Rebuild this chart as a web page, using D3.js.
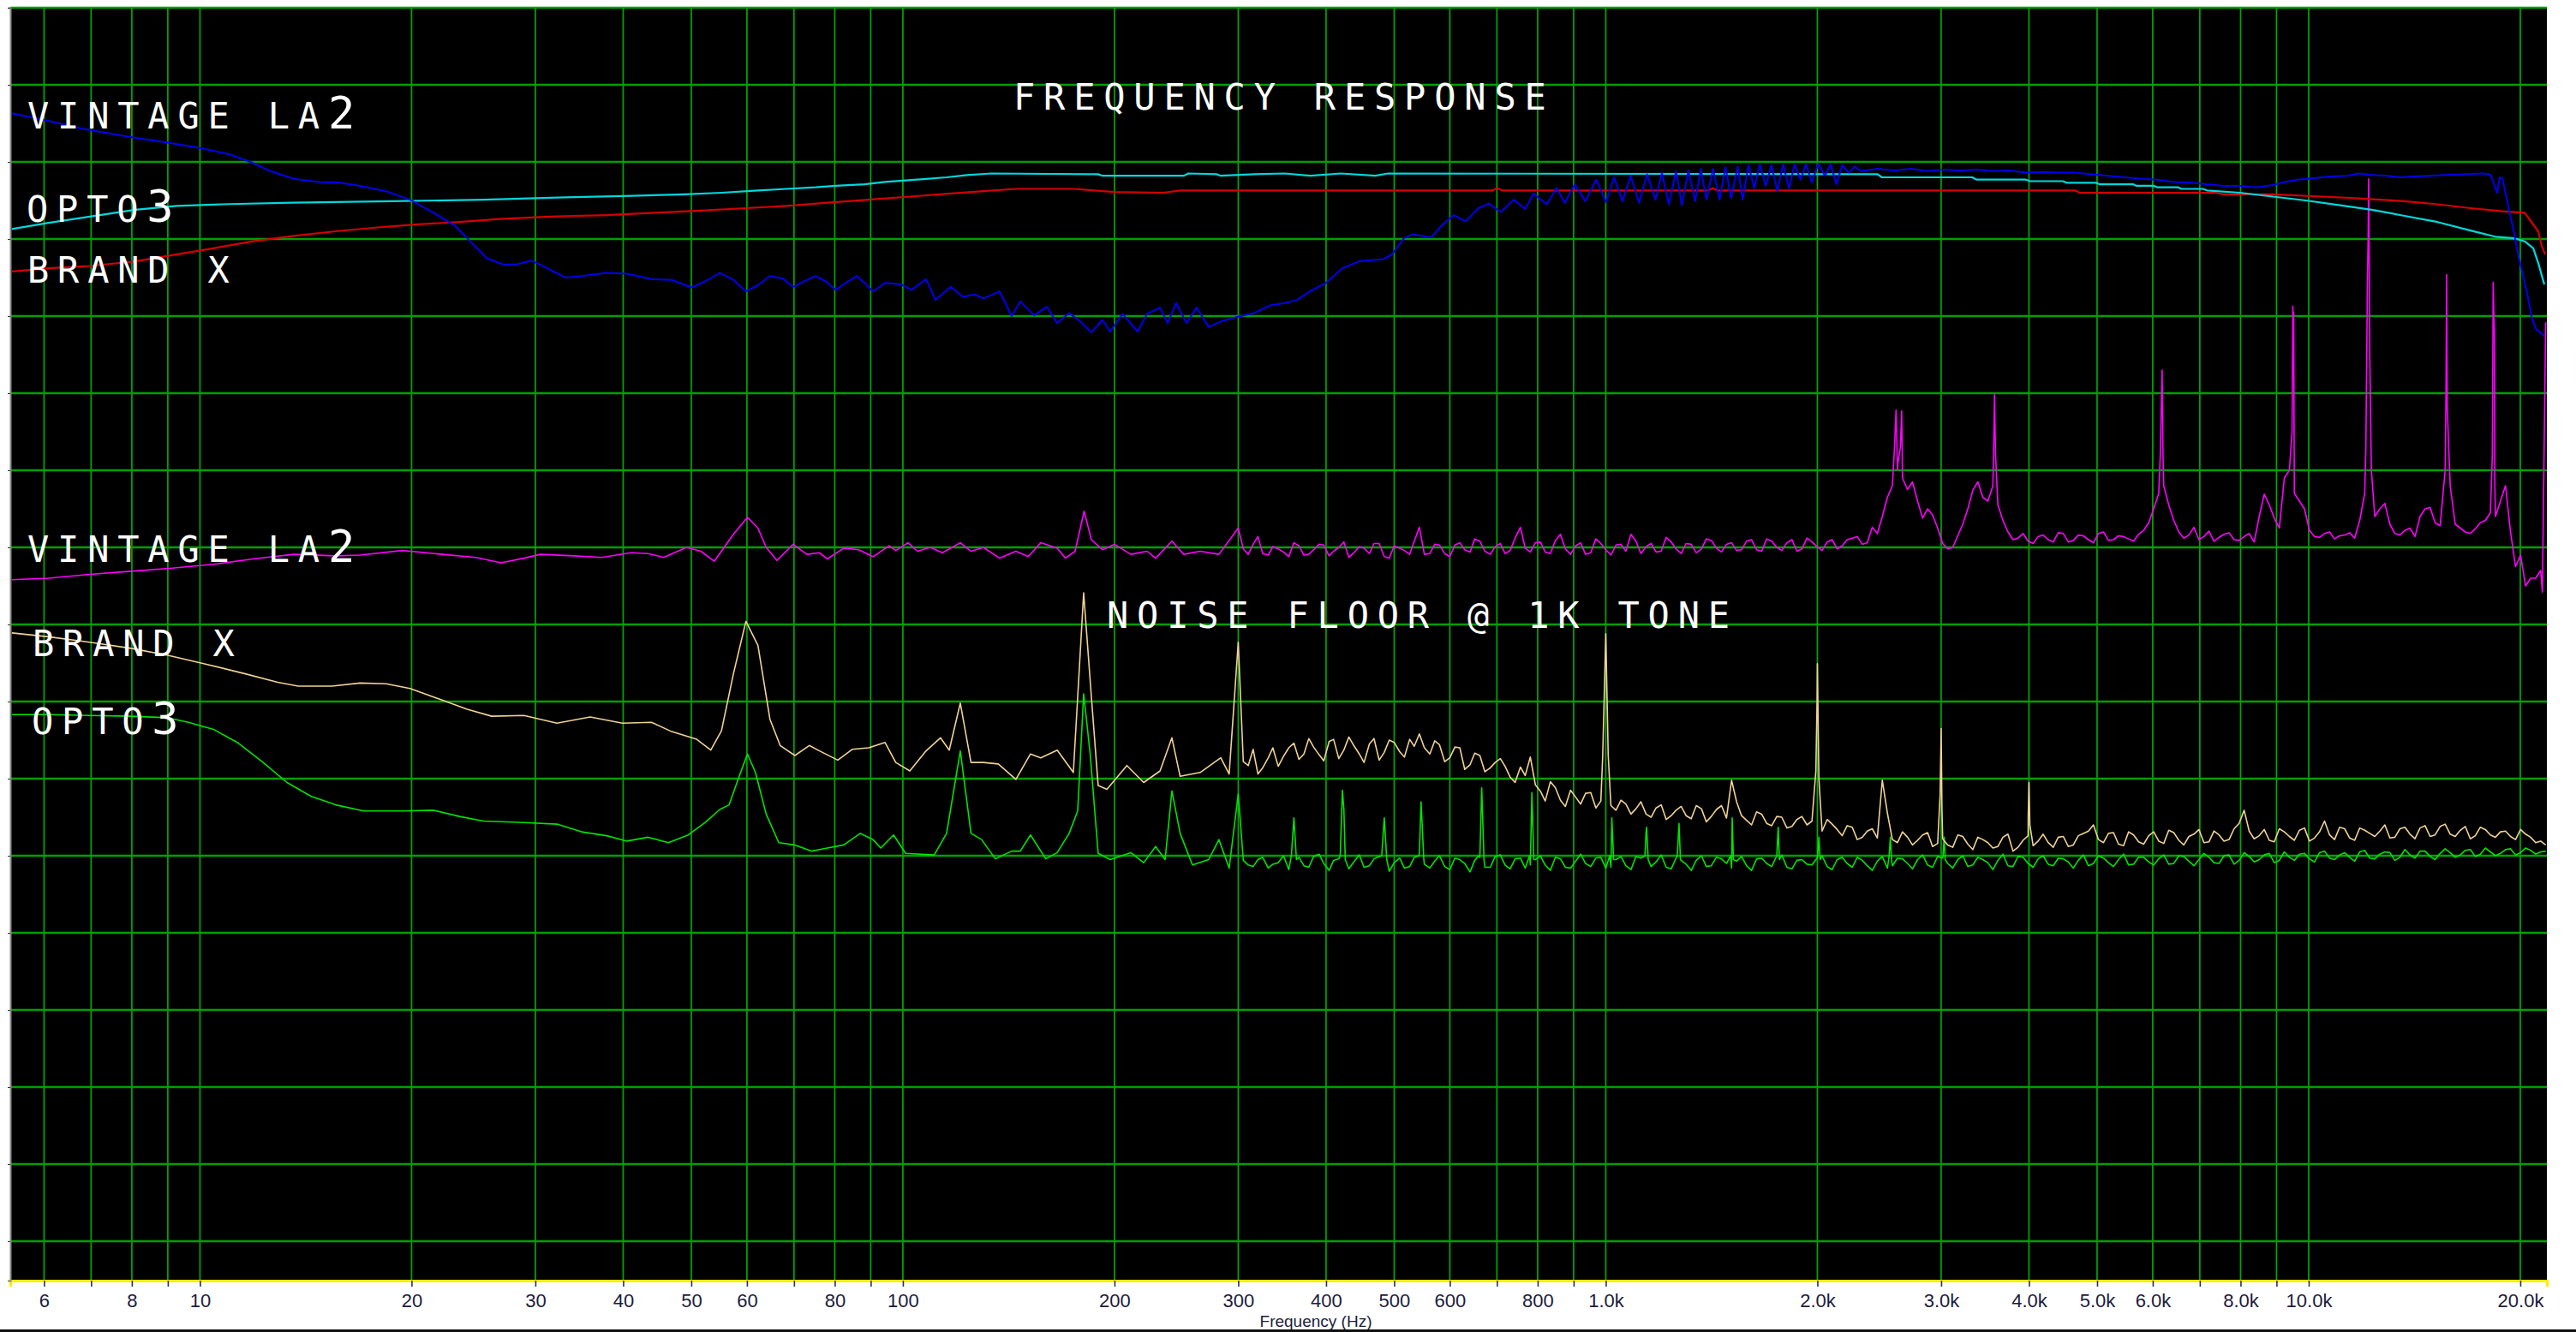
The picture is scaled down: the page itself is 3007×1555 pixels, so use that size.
<!DOCTYPE html>
<meta charset="utf-8">
<script src="https://d3js.org/d3.v7.min.js"></script>
<style>
  body { margin: 0; background: #fff; }
</style>
<svg id="chart" width="3007" height="1555"></svg>
<script>
// grid / tick values
var gridHz = [6, 7, 8, 9, 10, 20, 30, 40, 50, 60, 70, 80, 90, 100, 200, 300, 400, 500, 600, 700, 800, 900,
    1000, 2000, 3000, 4000, 5000, 6000, 7000, 8000, 9000, 10000, 20000];
var unlabeledHz = [7, 9, 70, 90, 700, 900, 7000, 9000];
var levelTicks = [0, -10, -20, -30, -40, -50, -60, -70, -80, -90, -100, -110, -120, -130, -140, -150, -160];

// frequency response, [Hz, dB]
var la2Response = [[5.4,-13.7],[6.1,-14.7],[6.8,-15.7],[8.0,-16.8],[9.0,-17.5],[10,-18.2],[11,-19.0],[11.8,-20.0],[12.6,-21.2],[13.6,-22.2],
    [14.8,-22.6],[15.8,-22.7],[16.9,-23.1],[18.4,-23.8],[19.9,-24.9],[21.5,-26.6],[23,-28.2],[24.3,-30.4],[25.6,-32.5],[27,-33.3],
    [28.2,-33.3],[29.6,-32.8],[30.9,-33.6],[33.1,-35.0],[34.9,-34.8],[37.9,-34.4],[40.5,-34.5],[43.8,-35.2],[46.9,-35.3],[50.1,-36.3],
    [52.3,-35.5],[54.9,-34.4],[57.4,-35.3],[59.8,-36.8],[62.2,-36.0],[64.7,-34.8],[67.4,-35.1],[69.8,-36.2],[72,-35.6],[75.1,-34.8],
    [77.7,-35.5],[80.3,-36.6],[82.9,-35.7],[86,-34.8],[88.2,-35.7],[90.7,-36.8],[94.3,-35.7],[99.5,-35.9],[102.9,-36.6],[107.9,-35.2],
    [111.3,-37.9],[117,-36.2],[121.7,-37.5],[126.6,-37.2],[130.2,-37.7],[137.3,-36.8],[142.8,-40.0],[146.9,-38.1],[153.7,-39.9],[160.3,-38.8],
    [165.8,-40.9],[172.4,-39.6],[178.8,-40.7],[185.4,-42.1],[192.3,-40.5],[197.2,-42.0],[205.4,-39.7],[215.8,-42.0],[222.6,-39.7],[232.2,-38.9],
    [238.1,-40.9],[244.8,-38.3],[253.2,-40.9],[261.8,-38.9],[272.3,-41.4],[283.3,-40.7],[298.8,-40.1],[316,-39.6],[333.3,-38.6],[349.7,-38.3],
    [363.7,-37.9],[379.3,-36.8],[400,-35.7],[421.9,-33.8],[445.7,-32.9],[482.7,-32.6],[496.5,-32.0],[516.4,-29.9],[531.1,-29.4],[564.9,-29.8],
    [583.5,-28.3],[607.7,-26.9],[631.9,-27.7],[659.1,-26.0],[681.7,-25.4],[709.1,-26.5],[739.6,-24.9],[768.4,-26.1],[788.9,-24.1],[824.1,-25.5],
    [851,-23.4],[874.5,-25.3],[903.4,-22.9],[935.6,-25.1],[969.1,-22.3],[1001,-25.2],[1028,-22.0],[1056,-25.1],[1085,-21.8],[1115,-25.3],
    [1145,-21.6],[1177,-24.9],[1202,-21.4],[1229,-25.5],[1259,-21.2],[1283,-25.6],[1311,-21.1],[1340,-25.1],[1365,-20.9],[1391,-24.9],
    [1421,-20.9],[1452,-24.9],[1480,-20.7],[1508,-24.7],[1541,-20.6],[1566,-24.9],[1596,-20.4],[1626,-23.4],[1657,-20.3],[1689,-23.1],
    [1721,-20.4],[1754,-23.8],[1788,-20.3],[1822,-23.4],[1857,-20.3],[1892,-22.3],[1928,-20.3],[1964,-22.7],[2006,-20.2],[2050,-21.8],
    [2089,-20.3],[2129,-22.9],[2170,-20.4],[2218,-21.4],[2259,-20.6],[2308,-21.2],[2437,-20.9],[2572,-21.1],[2716,-20.9],[2866,-21.2],
    [3024,-21.0],[3192,-21.1],[3369,-21.0],[3556,-21.2],[3753,-21.1],[3960,-21.4],[4180,-21.3],[4411,-21.4],[4656,-21.4],[4914,-21.6],
    [5186,-21.8],[5473,-22.0],[5777,-22.2],[6097,-22.3],[6435,-22.6],[6791,-22.7],[7167,-22.9],[7564,-23.1],[7985,-23.1],[8427,-23.3],
    [8892,-23.0],[9262,-22.6],[9641,-22.3],[10176,-22.1],[10742,-21.9],[11337,-21.8],[11805,-21.5],[12290,-21.7],[12974,-21.8],[13513,-22.0],
    [14070,-21.9],[14845,-21.8],[15668,-21.7],[16534,-21.6],[17692,-21.5],[18130,-21.6],[18540,-24.0],[18700,-22.0],[18860,-22.1],[19070,-24.2],
    [19340,-26.8],[19610,-29.3],[19890,-32.3],[20170,-34.6],[20460,-37.1],[20750,-40.1],[21040,-41.6],[21640,-42.6]];

var opto3Response = [[5.4,-28.7],[6.09,-27.9],[6.97,-27.1],[8.09,-26.2],[9.26,-25.7],[10.7,-25.5],[13.5,-25.3],[18.8,-25.1],[25.3,-24.9],[33.1,-24.6],
    [41.1,-24.4],[48.9,-24.2],[55.2,-24.0],[62.2,-23.7],[68.3,-23.5],[75.1,-23.3],[80.3,-23.1],[88.2,-22.9],[94.3,-22.6],[100.9,-22.4],
    [107.9,-22.2],[115.4,-22.0],[123.4,-21.7],[133.7,-21.5],[189.6,-21.6],[192.3,-21.8],[251,-21.8],[254.6,-21.5],[279.8,-21.6],[283.3,-21.8],
    [316,-21.6],[349.7,-21.5],[380,-21.8],[420,-21.5],[470,-21.8],[490,-21.5],[2437,-21.6],[2470,-22.0],[3323,-22.0],[3369,-22.3],
    [3960,-22.3],[4013,-22.5],[4469,-22.5],[4524,-22.7],[4981,-22.7],[5037,-22.9],[5623,-22.9],[5687,-23.1],[6015,-23.1],[6097,-23.3],
    [6523,-23.3],[6590,-23.5],[7071,-23.5],[7167,-23.7],[7985,-24.0],[8892,-24.5],[9903,-25.0],[11030,-25.6],[12290,-26.2],[13690,-27.0],
    [15255,-27.8],[16990,-28.9],[18420,-29.7],[19610,-29.9],[20290,-30.3],[20870,-31.2],[21210,-33.1],[21640,-35.9]];

var brandXResponse = [[5.4,-34.2],[6.09,-33.8],[6.97,-33.5],[8.09,-32.9],[9.13,-32.1],[10.45,-31.2],[11.9,-30.3],[13.6,-29.6],[15.6,-29.0],[17.9,-28.5],
    [20.4,-28.1],[23.4,-27.8],[26.7,-27.4],[31.4,-27.1],[37.9,-26.9],[44.4,-26.6],[52.3,-26.3],[59.8,-26.0],[68.3,-25.7],[78.1,-25.3],
    [89.4,-24.9],[102.3,-24.5],[117,-24.1],[130.2,-23.8],[144.8,-23.5],[174.8,-23.5],[200,-23.9],[234.8,-24.0],[248,-23.7],[690,-23.7],
    [700,-23.4],[712,-23.7],[1400,-23.7],[1420,-23.4],[1440,-23.7],[4656,-23.7],[4720,-24.0],[7367,-24.0],[7564,-24.2],[8892,-24.2],
    [10455,-24.5],[11645,-24.7],[13690,-25.1],[15255,-25.5],[16990,-26.0],[18860,-26.4],[20290,-26.6],[20630,-27.5],[21210,-29.0],[21460,-30.9],
    [21700,-32.0]];

// noise floor, low end [Hz, dB]
var la2NoiseLow = [[5.4,-74.2],[6.09,-74.0],[6.97,-73.5],[7.98,-73.1],[9.13,-72.7],[10.45,-72.2],[11.9,-71.5],[13.6,-70.9],[15.6,-71.1],[16.9,-71.0],
    [19.4,-70.4],[22.1,-70.9],[24.7,-71.3],[26.8,-72.0],[28.9,-71.4],[30.5,-70.9],[34,-71.1],[37.3,-71.3],[41,-70.7],[43.4,-70.8],
    [45.7,-71.3],[49.2,-70.0],[51.6,-70.5],[53.9,-71.8],[57.4,-68.3],[60.1,-66.1],[62.2,-67.5],[63.9,-70.0],[66.2,-71.7],[69.8,-69.6],
    [73,-70.9],[76.1,-70.7],[78.1,-71.5],[82.4,-70.1],[86.5,-70.3],[90.7,-71.2],[95.6,-69.8],[97.7,-70.4],[101.7,-69.4],[104.9,-70.5],
    [109.4,-70.0],[113.8,-70.7],[120.7,-69.4],[125,-70.5],[130.2,-70.0],[137.3,-71.4],[144.8,-70.5],[150.8,-71.2],[157.1,-69.4],[165.8,-70.1],
    [170.3,-71.4],[175.8,-70.5],[181.1,-65.3],[185.4,-69.0],[192.3,-70.3],[200,-69.6],[211,-70.9],[222.6,-70.5],[228.9,-71.4],[241.4,-69.2],
    [251,-70.9],[264.8,-70.5],[281.6,-70.9]];

var brandXNoiseLow = [[5.4,-81.1],[6.09,-81.6],[6.97,-82.3],[7.98,-83.1],[9.0,-84.0],[10.15,-85.1],[11.6,-86.4],[12.9,-87.5],[13.8,-88.0],[15.4,-88.0],
    [16.9,-87.6],[18.4,-87.7],[19.9,-88.3],[22.1,-89.8],[24,-91.0],[26,-91.9],[28.9,-91.8],[32.2,-92.8],[35.9,-92.0],[39.9,-92.8],
    [43.9,-92.7],[46.9,-93.9],[50.9,-94.9],[53.3,-96.3],[55.2,-93.8],[57.4,-86.4],[59.8,-79.6],[62.2,-82.7],[64.7,-92.3],[66.9,-95.7],
    [70.2,-97.0],[73.6,-95.7],[76.1,-96.4],[80.8,-97.6],[84.7,-96.2],[89.4,-96.0],[94.3,-95.3],[97.7,-97.9],[102.3,-99.0],[107.9,-96.4],
    [113.1,-94.7],[116.4,-96.3],[120.7,-90.2],[125,-97.9],[130.2,-97.9],[136.7,-98.1],[144.8,-100.1],[151.9,-96.8],[157.1,-97.3],[165.8,-96.3],
    [174.8,-99.2],[180.8,-75.9],[185.4,-89.3],[189.6,-100.9],[195.1,-101.4],[208.3,-98.3],[220.1,-100.5],[232.2,-99.0],[241.4,-94.7],[248,-99.7],
    [264.8,-99.2],[283.3,-97.3],[291.2,-99.4]];

var opto3NoiseLow = [[5.4,-91.7],[6.09,-91.7],[6.97,-91.8],[7.98,-91.9],[9.0,-92.1],[9.63,-92.7],[10.45,-93.6],[11.3,-95.3],[12.3,-97.9],[13.3,-100.5],
    [14.4,-102.3],[15.6,-103.4],[17.1,-104.2],[19.4,-104.2],[21.5,-104.1],[23.4,-104.9],[25.3,-105.5],[28.9,-105.7],[32.2,-105.9],[34.9,-106.9],
    [37.9,-107.4],[40.5,-108.1],[43.4,-107.6],[46.4,-108.3],[49.5,-107.3],[52.3,-105.7],[54.9,-104.0],[56.6,-103.4],[58.5,-99.7],[60.1,-96.8],
    [61.7,-99.2],[63.9,-104.6],[66.6,-108.3],[70.2,-108.6],[74.1,-109.4],[78.1,-109.0],[82.4,-108.6],[87,-107.1],[90.7,-107.9],[93,-109.0],
    [97,-107.3],[100.9,-109.7],[110.8,-109.9],[115.4,-107.1],[120.7,-96.4],[125,-107.1],[129.4,-107.9],[135.4,-110.4],[142.8,-109.4],[146.9,-109.4],
    [151.9,-107.3],[159.7,-110.4],[165.8,-109.6],[172.4,-107.1],[177.3,-104.2],[180.8,-89.0],[184.7,-96.8],[189.6,-109.7],[197.2,-110.5],[211,-109.6],
    [220.1,-110.9],[228.9,-108.8],[236.1,-110.5],[241.4,-101.6],[248,-107.1],[258.2,-111.2],[272.3,-110.5],[281.6,-107.9],[291.2,-111.6]];

// noise floor, analyser bins from 300 Hz up (frequencies shared by the three units)
var noiseHz = [300, 310, 320, 331, 342, 354, 366, 378, 391, 404,
    417, 431, 446, 461, 476, 492, 509, 526, 543, 562,
    580, 600, 620, 641, 662, 685, 708, 731, 756, 781,
    807, 834, 862, 891, 921, 952, 984, 1017, 1051, 1086,
    1122, 1160, 1199, 1239, 1280, 1323, 1368, 1413, 1461, 1510,
    1560, 1612, 1666, 1722, 1780, 1840, 1901, 1965, 2031, 2099,
    2169, 2242, 2317, 2394, 2474, 2557, 2643, 2731, 2823, 2917,
    3015, 3116, 3220, 3328, 3439, 3554, 3673, 3796, 3923, 4055,
    4190, 4331, 4476, 4625, 4780, 4940, 5106, 5276, 5453, 5635,
    5824, 6019, 6220, 6428, 6643, 6866, 7095, 7333, 7578, 7832,
    8094, 8365, 8645, 8934, 9233, 9542, 9862, 10192, 10533, 10885,
    11250, 11626, 12015, 12418, 12833, 13263, 13707, 14166, 14640, 15130,
    15637, 16160, 16701, 17260, 17838, 18436, 19053, 19691, 20350, 21031,
    21735];

// the in-between bins
var noiseMidHz = [305, 315, 325, 336, 348, 360, 372, 384, 397, 410,
    424, 438, 453, 468, 484, 500, 517, 534, 552, 571,
    590, 610, 630, 651, 673, 696, 719, 743, 768, 794,
    820, 848, 876, 906, 936, 968, 1000, 1034, 1068, 1104,
    1141, 1179, 1219, 1259, 1301, 1345, 1390, 1437, 1485, 1535,
    1586, 1639, 1694, 1751, 1810, 1870, 1933, 1998, 2065, 2134,
    2205, 2279, 2355, 2434, 2516, 2600, 2687, 2777, 2870, 2966,
    3065, 3168, 3274, 3383, 3496, 3613, 3734, 3859, 3989, 4122,
    4260, 4403, 4550, 4702, 4860, 5022, 5190, 5364, 5544, 5729,
    5921, 6119, 6323, 6535, 6754, 6980, 7213, 7455, 7704, 7962,
    8229, 8504, 8789, 9083, 9387, 9701, 10026, 10361, 10708, 11066,
    11437, 11820, 12215, 12625, 13047, 13483, 13935, 14402, 14884, 15382,
    15897, 16430, 16980, 17548, 18136, 18743, 19370, 20019, 20689, 21380];

var la2Noise = [-67.5,-70.9,-68.6,-71.0,-70.2,-71.2,-69.8,-70.9,-69.6,-71.1,
    -70.0,-71.3,-69.9,-70.8,-69.5,-71.4,-70.1,-70.9,-67.4,-70.8,
    -69.7,-71.2,-69.4,-70.6,-69.2,-70.9,-69.5,-70.4,-67.4,-70.6,
    -69.3,-70.8,-68.3,-70.9,-69.4,-70.7,-69.5,-71.0,-69.6,-68.3,
    -70.8,-69.5,-70.5,-69.3,-70.8,-69.6,-70.2,-69.1,-70.6,-69.4,
    -70.3,-69.0,-70.5,-69.2,-70.4,-69.0,-70.2,-69.3,-70.4,-69.0,
    -69.8,-68.8,-69.6,-67.4,-66.0,-62.0,-61.0,-61.5,-66.2,-65.8,
    -69.5,-70.0,-67.0,-62.6,-63.5,-62.0,-66.5,-69.0,-68.2,-69.5,
    -68.4,-69.3,-68.2,-69.1,-68.5,-69.4,-68.0,-69.0,-68.6,-69.2,
    -67.8,-65.0,-62.0,-66.5,-68.8,-67.4,-68.6,-69.2,-68.3,-69.0,
    -68.6,-69.3,-63.1,-66.2,-61.0,-63.0,-65.0,-68.6,-68.2,-68.9,
    -68.4,-68.8,-63.0,-66.0,-64.3,-68.2,-67.8,-68.6,-65.0,-66.8,
    -60.0,-67.0,-68.0,-67.6,-66.5,-66.0,-62.0,-72.5,-75.0,-74.0,
    -40.8];
var la2NoiseMid = [-70.2,-69.6,-70.8,-69.9,-70.6,-69.4,-71.0,-70.3,-69.7,-70.5,
    -69.3,-70.7,-70.1,-69.5,-71.2,-69.8,-70.4,-69.2,-70.9,-69.6,
    -70.8,-69.7,-70.3,-68.9,-70.5,-69.9,-70.8,-68.8,-70.1,-69.4,
    -70.6,-69.1,-70.2,-69.8,-70.9,-68.9,-70.3,-69.7,-70.5,-69.2,
    -69.9,-70.6,-68.7,-70.2,-69.5,-70.7,-68.9,-70.1,-69.6,-70.4,
    -69.2,-70.3,-68.9,-70.0,-69.4,-70.5,-68.8,-69.9,-69.3,-70.2,
    -69.0,-68.6,-69.4,-68.2,-63.5,-60.0,-62.5,-64.0,-65.0,-67.5,
    -70.2,-68.5,-65.0,-61.5,-64.0,-64.5,-68.0,-68.8,-69.2,-68.6,
    -69.0,-68.1,-69.3,-68.4,-69.0,-68.2,-69.1,-68.5,-68.9,-68.3,
    -66.8,-63.0,-64.5,-68.0,-68.4,-69.0,-67.9,-68.7,-68.1,-69.1,
    -68.2,-66.0,-64.5,-67.5,-60.0,-64.0,-67.8,-68.7,-68.0,-68.5,
    -68.1,-66.5,-45.0,-65.0,-67.0,-68.4,-67.5,-66.0,-64.8,-67.2,
    -62.0,-67.5,-68.2,-66.8,-65.5,-64.0,-68.0,-71.0,-74.0,-73.0];

var brandXNoise = [-82.3,-98.3,-99.4,-97.3,-98.4,-96.0,-97.5,-94.8,-96.9,-95.2,
    -97.4,-94.6,-96.8,-95.5,-97.6,-95.0,-96.5,-94.9,-94.2,-96.8,
    -95.6,-97.3,-96.0,-98.2,-97.0,-98.6,-97.4,-99.8,-98.5,-97.2,
    -101.6,-100.4,-102.8,-101.5,-103.3,-101.8,-102.9,-103.5,-102.8,-104.6,
    -103.0,-105.0,-103.4,-104.8,-103.6,-105.2,-103.9,-104.9,-103.5,-100.2,
    -104.8,-106.0,-104.6,-106.1,-105.0,-106.2,-104.9,-105.5,-106.8,-105.9,
    -107.4,-106.3,-107.6,-106.5,-100.2,-107.9,-106.9,-108.6,-107.3,-108.8,
    -107.8,-108.9,-107.5,-109.2,-107.9,-109.0,-107.6,-109.4,-108.0,-108.7,
    -107.2,-108.9,-107.5,-108.6,-107.1,-106.0,-108.3,-107.0,-108.7,-107.3,
    -108.5,-106.9,-108.4,-107.0,-108.6,-107.2,-108.3,-106.8,-108.1,-106.5,
    -104.1,-107.8,-106.6,-108.2,-106.9,-108.0,-106.4,-107.7,-105.5,-107.9,
    -106.5,-108.0,-106.7,-107.5,-106.0,-107.6,-106.3,-107.8,-106.1,-107.3,
    -105.9,-107.5,-106.2,-107.4,-106.6,-107.6,-106.8,-107.9,-107.2,-108.3,
    -108.6];
var brandXNoiseMid = [-97.8,-96.2,-98.6,-96.0,-97.1,-95.4,-96.8,-95.9,-97.7,-94.9,
    -96.3,-95.7,-97.9,-94.8,-96.6,-95.3,-97.2,-95.8,-96.0,-95.1,
    -97.8,-95.9,-98.8,-96.7,-99.1,-97.9,-98.4,-100.5,-99.6,-100.8,
    -102.9,-101.2,-103.6,-102.4,-101.9,-103.8,-81.2,-104.1,-103.3,-103.9,
    -104.6,-103.8,-105.3,-104.1,-104.8,-103.5,-105.6,-104.0,-105.1,-103.0,
    -105.4,-104.3,-105.8,-104.9,-106.4,-105.3,-106.0,-90.0,-105.3,-106.6,
    -106.1,-107.9,-106.8,-107.7,-104.5,-108.3,-107.6,-108.0,-107.0,-108.4,
    -108.6,-107.3,-108.5,-107.6,-108.3,-108.8,-107.2,-108.9,-107.4,-108.1,
    -108.3,-107.6,-108.8,-107.4,-106.8,-107.9,-107.1,-108.5,-106.9,-108.2,
    -107.4,-108.1,-106.7,-108.0,-107.5,-106.6,-108.2,-107.3,-107.9,-105.8,
    -106.8,-107.4,-108.0,-106.5,-107.5,-106.7,-108.1,-106.9,-107.3,-106.3,
    -107.7,-106.4,-107.1,-106.8,-107.7,-106.5,-107.2,-106.4,-107.5,-106.2,
    -107.2,-106.7,-107.8,-106.3,-107.3,-106.9,-107.5,-106.6,-107.6,-108.1];

var opto3Noise = [-102.0,-111.2,-110.5,-111.6,-110.9,-111.8,-110.2,-111.5,-109.8,-111.9,
    -110.4,-111.7,-109.9,-111.3,-110.1,-112.0,-110.3,-111.4,-109.7,-111.6,
    -110.0,-111.8,-110.5,-112.1,-110.2,-111.5,-109.9,-111.7,-110.3,-111.2,
    -110.0,-111.9,-110.4,-111.6,-109.8,-111.4,-110.2,-111.5,-110.1,-111.8,
    -110.3,-111.4,-109.9,-111.7,-110.6,-111.9,-110.0,-111.3,-110.4,-111.6,
    -110.1,-111.9,-110.3,-111.4,-109.9,-111.7,-110.5,-111.2,-110.0,-111.8,
    -110.2,-111.5,-110.6,-111.9,-110.1,-111.3,-110.4,-111.7,-109.9,-111.5,
    -110.3,-111.6,-110.0,-111.2,-110.5,-111.8,-109.8,-111.4,-110.2,-111.5,
    -110.0,-111.3,-110.4,-111.6,-109.9,-111.0,-110.3,-111.4,-109.8,-111.1,
    -110.2,-111.2,-109.9,-111.0,-110.1,-111.3,-109.7,-110.9,-110.0,-111.1,
    -109.6,-110.8,-109.9,-110.9,-109.5,-110.6,-109.7,-110.8,-109.4,-110.5,
    -109.6,-110.7,-109.3,-110.4,-109.5,-110.6,-109.2,-110.3,-109.4,-110.5,
    -109.1,-110.2,-109.3,-110.1,-109.0,-110.0,-109.2,-109.9,-109.0,-109.8,
    -109.4];
var opto3NoiseMid = [-110.6,-111.4,-110.2,-111.1,-110.0,-105.1,-111.3,-110.1,-111.0,-110.6,
    -104.0,-110.8,-111.5,-110.4,-105.1,-110.9,-111.6,-110.2,-111.1,-110.7,
    -111.4,-110.3,-111.0,-110.6,-111.5,-110.1,-111.2,-110.4,-111.6,-110.5,
    -111.2,-110.2,-111.5,-110.7,-111.0,-110.3,-111.6,-110.5,-111.3,-110.1,
    -107.0,-110.8,-111.5,-110.3,-111.1,-110.6,-111.4,-110.2,-111.0,-110.7,
    -111.3,-110.4,-111.0,-110.0,-111.5,-110.6,-111.1,-110.3,-111.4,-110.5,
    -111.0,-110.2,-111.3,-110.7,-111.6,-110.3,-111.0,-110.5,-111.2,-110.1,
    -111.0,-110.5,-111.4,-110.2,-110.9,-110.6,-111.3,-110.1,-111.0,-110.4,
    -111.1,-110.3,-110.8,-110.6,-111.3,-110.0,-110.9,-110.5,-111.2,-110.2,
    -110.8,-110.4,-111.1,-110.0,-110.7,-110.5,-110.2,-111.0,-109.9,-110.6,
    -110.1,-110.5,-109.7,-110.6,-110.2,-109.8,-110.4,-109.6,-110.3,-109.9,
    -110.2,-109.5,-110.3,-109.8,-109.6,-110.2,-109.9,-109.4,-110.1,-109.7,
    -109.6,-109.9,-109.2,-109.8,-109.5,-109.7,-109.1,-109.6,-109.3,-109.5];

// narrow tones / harmonics, [Hz, dB]
var la2Peaks = [[2575,-57],[2588,-52.2],[2605,-59],[2625,-57],[2636,-52.3],
    [3565,-56],[3573,-50.2],[3585,-58],
    [6150,-58],[6187,-47.0],[6205,-58],
    [9470,-55],[9495,-38.7],[9510,-48],[9520,-39.5],[9535,-57],
    [12060,-57],[12120,-35.8],[12150,-30],[12170,-22.2],[12200,-36.9],[12280,-60],
    [15680,-50],[15712,-34.6],[15745,-52],
    [18250,-58],[18300,-35.6],[18340,-40],[18370,-41.7],[18400,-62],
    [21500,-75.8]];

var brandXPeaks = [[990,-97],[1000,-81.2],[1008,-97],
    [1990,-99],[2000,-85.1],[2010,-100],
    [2990,-102],[3000,-93.5],[3008,-104],
    [3990,-105],[4000,-100.5],[4012,-106]];

var opto3Peaks = [[357,-110],[360,-105.1],[363,-110.5],
    [419,-110],[422,-101.5],[426,-110.5],
    [480,-110],[484,-105.1],[488,-110.5],
    [542,-110],[546,-103.0],[551,-110.5],
    [660,-110],[666,-101.2],[671,-110.5],
    [779,-110],[785,-101.8],[790,-110.5],
    [1013,-110],[1020,-105.1],[1026,-110.5],
    [1137,-110],[1143,-106.3],[1149,-110.5],
    [1264,-110],[1271,-105.8],[1277,-110.5],
    [1505,-110],[1513,-105.1],[1519,-110.5],
    [1751,-110],[1759,-106.3],[1766,-110.5],
    [2002,-110],[2010,-107.6],[2018,-110.5],
    [2530,-110],[2540,-107.6],[2550,-110.5],
    [3018,-110],[3030,-107.6],[3040,-110.5]];

// The svg
var svg = d3.select("#chart"),
    width = +svg.attr("width"),
    height = +svg.attr("height");

var plotL = 12, plotR = 2973, plotT = 9, plotB = 1495;

var x = d3.scaleLog().domain([5.372, 21820]).range([plotL, plotR]);
var y = d3.scaleLinear().domain([-165.11, 0]).range([plotB, plotT]);

svg.append("rect").attr("width", width).attr("height", height).attr("fill", "#fff");
svg.append("rect")
    .attr("x", plotL).attr("y", plotT)
    .attr("width", plotR - plotL).attr("height", plotB - plotT)
    .attr("fill", "#000");

svg.append("clipPath").attr("id", "plotClip")
    .append("rect")
    .attr("x", plotL).attr("y", plotT)
    .attr("width", plotR - plotL).attr("height", plotB - plotT);

// grid
var grid = svg.append("g");
grid.selectAll(".vgrid")
    .data(gridHz)
    .enter().append("line")
    .attr("x1", d => x(d)).attr("x2", d => x(d))
    .attr("y1", plotT).attr("y2", plotB)
    .attr("stroke", "#00a800")
    .attr("stroke-width", 1.7);
grid.selectAll(".hgrid")
    .data(levelTicks)
    .enter().append("line")
    .attr("x1", plotL).attr("x2", plotR)
    .attr("y1", d => y(d)).attr("y2", d => y(d))
    .attr("stroke", "#00a000")
    .attr("stroke-width", 2.6);

// axes
var fmt = function(d) {
    if (unlabeledHz.indexOf(d) >= 0) return "";
    return d < 1000 ? String(d) : (d / 1000).toFixed(1) + "k";
};

var xAxis = svg.append("g")
    .attr("transform", "translate(0," + plotB + ")")
    .call(d3.axisBottom(x).tickValues(gridHz).tickFormat(fmt).tickSize(7).tickPadding(8));
xAxis.select(".domain").attr("stroke", "#ffee00").attr("stroke-width", 3);
xAxis.selectAll(".tick line").attr("stroke", "#333").attr("stroke-width", 1.6);
xAxis.selectAll("text")
    .attr("fill", "#1c1c3c")
    .style("font-family", "'Liberation Sans', Arial, sans-serif")
    .style("font-size", "22px");

var yAxis = svg.append("g")
    .attr("transform", "translate(" + plotL + ",0)")
    .call(d3.axisLeft(y).tickValues(levelTicks).tickFormat("").tickSize(3));
yAxis.select(".domain").attr("stroke", "#888").attr("stroke-width", 2);
yAxis.selectAll(".tick line").attr("stroke", "#333");

svg.append("text")
    .attr("x", 1536).attr("y", 1549)
    .attr("text-anchor", "middle")
    .attr("fill", "#1c1c3c")
    .style("font-family", "'Liberation Sans', Arial, sans-serif")
    .style("font-size", "19px")
    .text("Frequency (Hz)");

svg.append("line")
    .attr("x1", 0).attr("x2", width)
    .attr("y1", 1553.5).attr("y2", 1553.5)
    .attr("stroke", "#111").attr("stroke-width", 3);

// curves
var line = d3.line()
    .x(d => x(d[0]))
    .y(d => y(d[1]));

function noiseSeries(low, levels, midLevels, peaks) {
    var pts = low.concat(
        noiseHz.map((f, i) => [f, levels[i]]),
        noiseMidHz.map((f, i) => [f, midLevels[i]]),
        peaks);
    return pts.sort((a, b) => a[0] - b[0]);
}

var curves = [
    { pts: noiseSeries(opto3NoiseLow, opto3Noise, opto3NoiseMid, opto3Peaks), color: "#00e400", w: 1.6 },
    { pts: noiseSeries(brandXNoiseLow, brandXNoise, brandXNoiseMid, brandXPeaks), color: "#f0d294", w: 1.6 },
    { pts: noiseSeries(la2NoiseLow, la2Noise, la2NoiseMid, la2Peaks), color: "#ff00ff", w: 1.6 },
    { pts: brandXResponse, color: "#d40000", w: 2.2 },
    { pts: opto3Response, color: "#00d8dc", w: 2.2 },
    { pts: la2Response, color: "#0000f0", w: 2.0 }
];

svg.append("g")
    .attr("clip-path", "url(#plotClip)")
    .selectAll("path")
    .data(curves)
    .enter().append("path")
    .attr("d", d => line(d.pts))
    .attr("fill", "none")
    .attr("stroke", d => d.color)
    .attr("stroke-width", d => d.w)
    .attr("stroke-linejoin", "round");

// captions
function caption(txt, px, py, bigLast) {
    var t = svg.append("text")
        .attr("x", px).attr("y", py)
        .attr("fill", "#fff")
        .style("font-family", "'DejaVu Sans Mono', monospace")
        .style("font-size", "42px")
        .style("letter-spacing", "9.8px");
    if (bigLast) {
        t.append("tspan").text(txt.slice(0, -1));
        t.append("tspan").style("font-size", "52px").text(txt.slice(-1));
    } else {
        t.text(txt);
    }
}

caption("FREQUENCY RESPONSE", 1183, 128, false);
caption("VINTAGE LA2", 32, 150, true);
caption("OPTO3", 31, 259, true);
caption("BRAND X", 32, 330, false);
caption("VINTAGE LA2", 32, 656, true);
caption("NOISE FLOOR @ 1K TONE", 1292, 733, false);
caption("BRAND X", 38, 766, false);
caption("OPTO3", 37, 857, true);
</script>
